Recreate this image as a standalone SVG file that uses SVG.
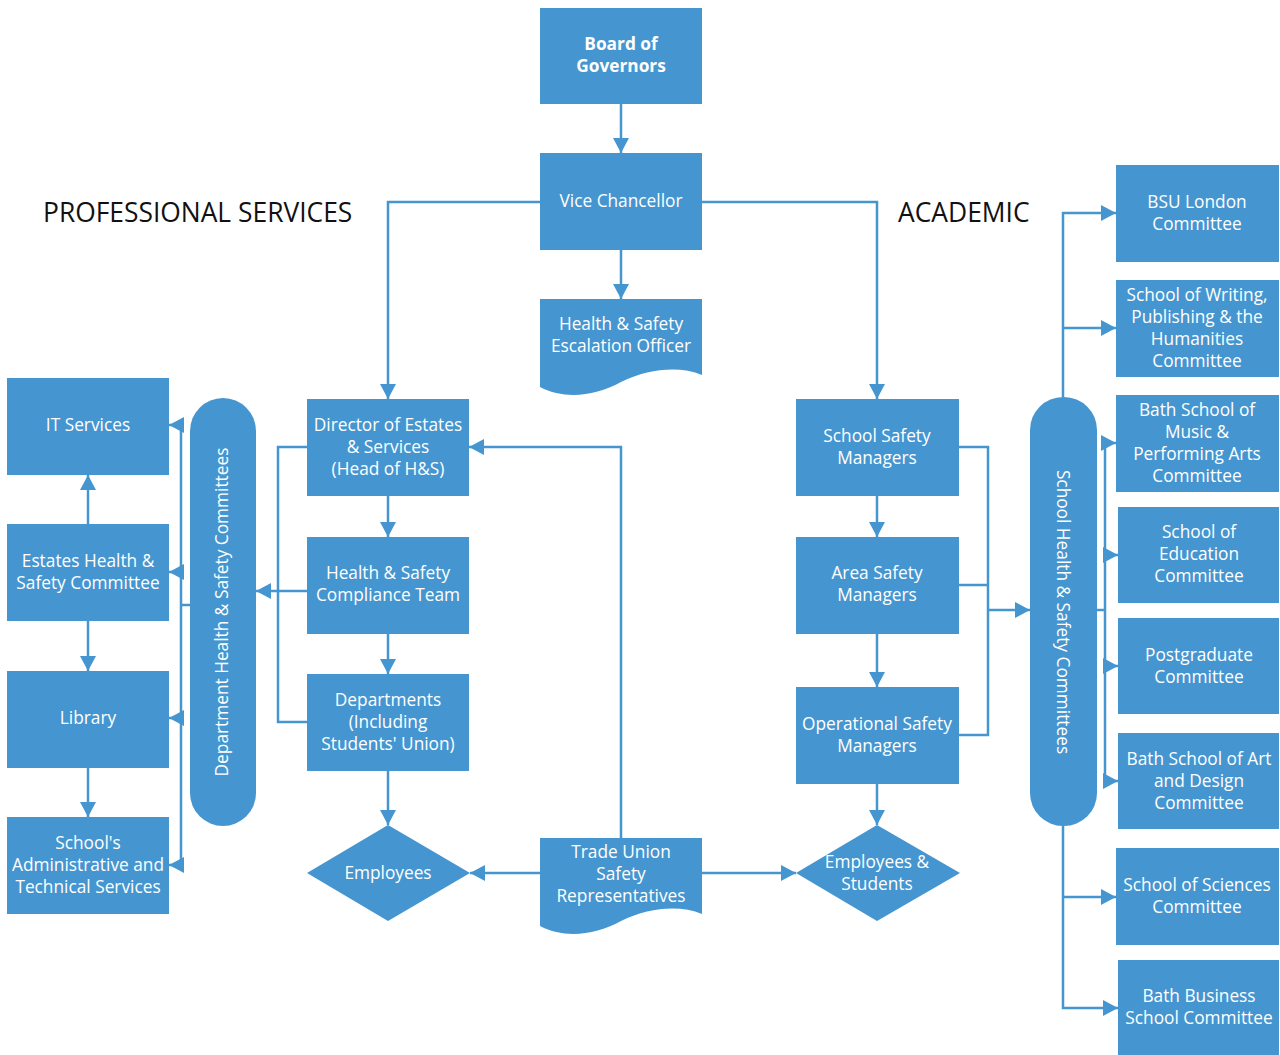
<svg xmlns="http://www.w3.org/2000/svg" width="1280" height="1055" viewBox="0 0 1280 1055">
<defs>
<style>
.n{fill:#4596d0}
.t{fill:#fff;font-family:"Open Sans","Noto Sans",sans-serif;font-size:17.3px;text-anchor:middle}
.b{font-weight:bold}
.h{fill:#111;font-family:"Open Sans","Noto Sans",sans-serif;font-size:26.4px}
.c{fill:none;stroke:#4596d0;stroke-width:2.5}
.ar{marker-end:url(#a)}
</style>
<marker id="a" markerWidth="15" markerHeight="16" refX="15" refY="8" orient="auto" markerUnits="userSpaceOnUse"><path d="M0,0 L15,8 L0,16 Z" fill="#4596d0"/></marker>
</defs>
<rect width="1280" height="1055" fill="#fff"/>
<text class="h" x="43" y="222">PROFESSIONAL SERVICES</text>
<text class="h" x="898" y="222">ACADEMIC</text>

<g id="connectors">
<path class="c ar" d="M621,104 V153"/>
<path class="c ar" d="M621,250 V299"/>
<path class="c ar" d="M540,202 H388 V399"/>
<path class="c ar" d="M702,202 H877 V399"/>
<path class="c ar" d="M388,496 V537"/>
<path class="c ar" d="M388,634 V674"/>
<path class="c ar" d="M388,771 V825"/>
<path class="c ar" d="M877,496 V537"/>
<path class="c ar" d="M877,634 V687"/>
<path class="c ar" d="M877,784 V825"/>
<path class="c ar" d="M621,838 V447 H469"/>
<path class="c ar" d="M540,873 H470"/>
<path class="c ar" d="M702,873 H796"/>
<path class="c ar" d="M88,524 V475"/>
<path class="c ar" d="M88,621 V671"/>
<path class="c ar" d="M88,768 V817"/>
<path class="c" d="M307,447 H278 V722 H307"/>
<path class="c ar" d="M307,591 H256"/>
<path class="c" d="M190,605 H181"/>
<path class="c" d="M181,425 V865"/>
<path class="c ar" d="M181,425 H169"/>
<path class="c ar" d="M181,572 H169"/>
<path class="c ar" d="M181,718 H169"/>
<path class="c ar" d="M181,865 H169"/>
<path class="c" d="M959,447 H988 V735 H959"/>
<path class="c" d="M959,585 H988"/>
<path class="c ar" d="M988,610 H1030"/>
<path class="c ar" d="M1063,397 V213 H1116"/>
<path class="c ar" d="M1063,328 H1116"/>
<path class="c" d="M1097,610 H1105"/>
<path class="c" d="M1105,443 V781"/>
<path class="c ar" d="M1105,443 H1116"/>
<path class="c ar" d="M1105,555 H1118"/>
<path class="c ar" d="M1105,666 H1118"/>
<path class="c ar" d="M1105,781 H1118"/>
<path class="c ar" d="M1063,826 V1008 H1118"/>
<path class="c ar" d="M1063,897 H1116"/>
</g>

<g id="board"><rect class="n" x="540" y="8" width="162" height="96"/><text class="t b" x="621" y="50">Board of</text><text class="t b" x="621" y="72">Governors</text></g>
<g id="vc"><rect class="n" x="540" y="153" width="162" height="97"/><text class="t" x="621" y="207">Vice Chancellor</text></g>
<g id="escalation"><path class="n" d="M540,299 H702 V375 C680,366 650,368 621,382 C595,396 565,400 540,387 Z"/><text class="t" x="621" y="330">Health &amp; Safety</text><text class="t" x="621" y="352">Escalation Officer</text></g>

<g id="director"><rect class="n" x="307" y="399" width="162" height="97"/><text class="t" x="388" y="431">Director of Estates</text><text class="t" x="388" y="453">&amp; Services</text><text class="t" x="388" y="475">(Head of H&amp;S)</text></g>
<g id="compliance"><rect class="n" x="307" y="537" width="162" height="97"/><text class="t" x="388" y="579">Health &amp; Safety</text><text class="t" x="388" y="601">Compliance Team</text></g>
<g id="departments"><rect class="n" x="307" y="674" width="162" height="97"/><text class="t" x="388" y="706">Departments</text><text class="t" x="388" y="728">(Including</text><text class="t" x="388" y="750">Students' Union)</text></g>
<g id="employees"><path class="n" d="M388,825 L470,873 L388,921 L307,873 Z"/><text class="t" x="388" y="879">Employees</text></g>
<g id="tradeunion"><path class="n" d="M540,838 H702 V914 C680,905 650,907 621,921 C595,935 565,939 540,926 Z"/><text class="t" x="621" y="858">Trade Union</text><text class="t" x="621" y="880">Safety</text><text class="t" x="621" y="902">Representatives</text></g>

<g id="schoolsafety"><rect class="n" x="796" y="399" width="163" height="97"/><text class="t" x="877" y="442">School Safety</text><text class="t" x="877" y="464">Managers</text></g>
<g id="areasafety"><rect class="n" x="796" y="537" width="163" height="97"/><text class="t" x="877" y="579">Area Safety</text><text class="t" x="877" y="601">Managers</text></g>
<g id="opsafety"><rect class="n" x="796" y="687" width="163" height="97"/><text class="t" x="877" y="730">Operational Safety</text><text class="t" x="877" y="752">Managers</text></g>
<g id="empstudents"><path class="n" d="M877,825 L960,873 L877,921 L796,873 Z"/><text class="t" x="877" y="868">Employees &amp;</text><text class="t" x="877" y="890">Students</text></g>

<g id="itservices"><rect class="n" x="7" y="378" width="162" height="97"/><text class="t" x="88" y="431">IT Services</text></g>
<g id="estates"><rect class="n" x="7" y="524" width="162" height="97"/><text class="t" x="88" y="567">Estates Health &amp;</text><text class="t" x="88" y="589">Safety Committee</text></g>
<g id="library"><rect class="n" x="7" y="671" width="162" height="97"/><text class="t" x="88" y="724">Library</text></g>
<g id="schoolsadmin"><rect class="n" x="7" y="817" width="162" height="97"/><text class="t" x="88" y="849">School's</text><text class="t" x="88" y="871">Administrative and</text><text class="t" x="88" y="893">Technical Services</text></g>
<g id="depthsc"><rect class="n" x="190" y="398" width="66" height="428" rx="33"/><text class="t" transform="translate(228,612) rotate(-90)" x="0" y="0">Department Health &amp; Safety Committees</text></g>

<g id="schoolhsc"><rect class="n" x="1030" y="397" width="67" height="429" rx="33"/><text class="t" transform="translate(1057,612) rotate(90)" x="0" y="0">School Health &amp; Safety Committees</text></g>
<g id="bsu"><rect class="n" x="1116" y="165" width="163" height="97"/><text class="t" x="1197" y="208">BSU London</text><text class="t" x="1197" y="230">Committee</text></g>
<g id="writing"><rect class="n" x="1116" y="280" width="163" height="97"/><text class="t" x="1197" y="301">School of Writing,</text><text class="t" x="1197" y="323">Publishing &amp; the</text><text class="t" x="1197" y="345">Humanities</text><text class="t" x="1197" y="367">Committee</text></g>
<g id="music"><rect class="n" x="1116" y="395" width="163" height="97"/><text class="t" x="1197" y="416">Bath School of</text><text class="t" x="1197" y="438">Music &amp;</text><text class="t" x="1197" y="460">Performing Arts</text><text class="t" x="1197" y="482">Committee</text></g>
<g id="education"><rect class="n" x="1118" y="507" width="161" height="96"/><text class="t" x="1199" y="538">School of</text><text class="t" x="1199" y="560">Education</text><text class="t" x="1199" y="582">Committee</text></g>
<g id="postgrad"><rect class="n" x="1118" y="618" width="161" height="96"/><text class="t" x="1199" y="661">Postgraduate</text><text class="t" x="1199" y="683">Committee</text></g>
<g id="artdesign"><rect class="n" x="1118" y="733" width="161" height="96"/><text class="t" x="1199" y="765">Bath School of Art</text><text class="t" x="1199" y="787">and Design</text><text class="t" x="1199" y="809">Committee</text></g>
<g id="sciences"><rect class="n" x="1116" y="848" width="163" height="97"/><text class="t" x="1197" y="891">School of Sciences</text><text class="t" x="1197" y="913">Committee</text></g>
<g id="business"><rect class="n" x="1118" y="960" width="161" height="95"/><text class="t" x="1199" y="1002">Bath Business</text><text class="t" x="1199" y="1024">School Committee</text></g>
</svg>
